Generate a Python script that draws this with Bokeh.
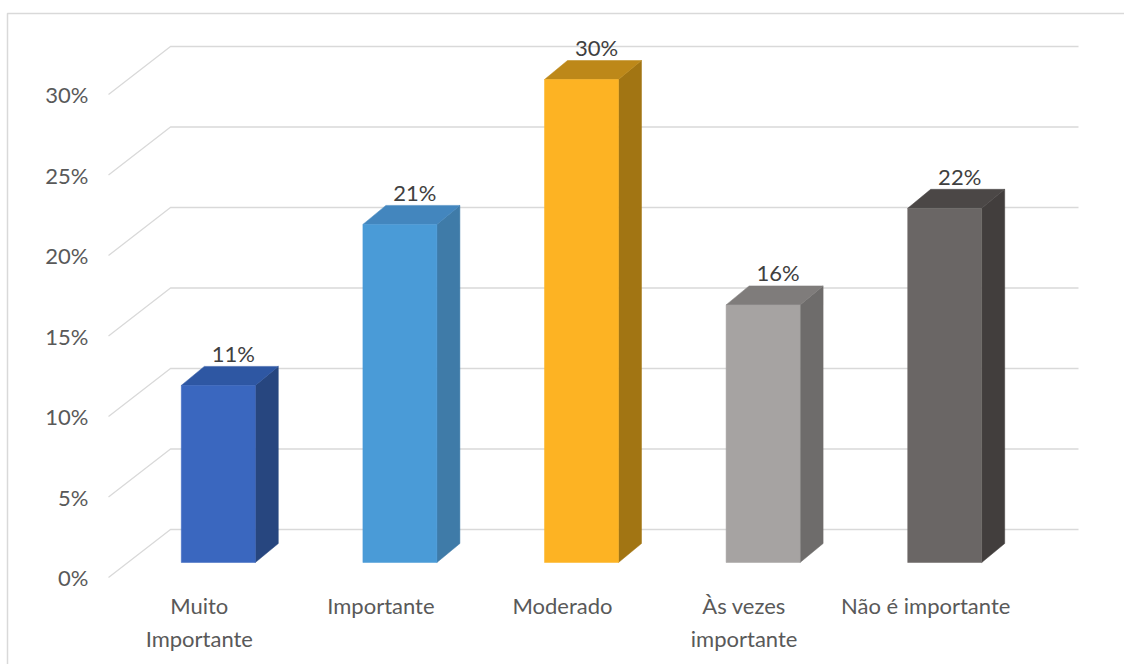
from bokeh.plotting import figure
from bokeh.models import Range1d
from bokeh.embed import file_html
from bokeh.resources import INLINE
from bokeh.core.properties import value

# ---- data ----
categories = ["Muito\nImportante", "Importante", "Moderado", "Às vezes\nimportante", "Não é importante"]
shares = [11, 21, 30, 16, 22]
tick_values = [0, 5, 10, 15, 20, 25, 30]
tick_labels = ["0%", "5%", "10%", "15%", "20%", "25%", "30%"]

front_colors = ["#3A67BF", "#4A9BD7", "#FDB323", "#A6A3A2", "#6A6665"]
side_colors = ["#27467F", "#3F7BA8", "#A27513", "#6E6C6B", "#423E3D"]
top_colors = ["#2E57A3", "#4386BE", "#BD8819", "#7F7C7B", "#4B4746"]

# ---- oblique projection geometry (pixels) ----
W, H = 1124, 664
PX_PER_CAT = 181.6      # width of one category slot on the front plane
PX_PER_PCT = 16.1       # height of one percentage point
FRONT_LEFT = 108        # screen x where the floor's front edge starts
FRONT_ZERO = 577        # screen y of 0% on the front plane
WALL_DX, WALL_DY = 62, 48      # front plane -> back wall
BAR_DX, BAR_DY = 19, 15        # front plane -> bar front face
DEPTH_DX, DEPTH_DY = 23, 19    # bar thickness
BAR_W = 74
FONT = "Lato"
FONT_SIZE = "22px"
TEXT_COLOR = "#595959"
GRID_COLOR = "#D9D9D9"


def ux(px):
    return px / PX_PER_CAT


def uy(px):
    return px / PX_PER_PCT


def sx(px):
    return -0.5 + (px - FRONT_LEFT) / PX_PER_CAT


def sy(py):
    return (FRONT_ZERO - py) / PX_PER_PCT


p = figure(width=W, height=H,
           x_range=Range1d(sx(0), sx(W)), y_range=Range1d(sy(H), sy(0)),
           min_border=0, toolbar_location=None, output_backend="svg",
           x_axis_type=None, y_axis_type=None,
           outline_line_color=None, background_fill_color="white",
           border_fill_color="white")
p.grid.visible = False

n = len(categories)
x_first, x_last = -0.5, n - 0.5

# chart-area border (top and left edges)
p.line(x=[sx(7), sx(7), sx(W + 5)], y=[sy(H + 5), sy(13), sy(13)],
       line_color=GRID_COLOR, line_width=1.5)

# floor/wall gridlines: diagonal on the side wall, then across the back wall
xs, ys = [], []
for v in tick_values:
    xs.append([x_first, x_first + ux(WALL_DX), x_last + ux(WALL_DX)])
    ys.append([v, v + uy(WALL_DY), v + uy(WALL_DY)])
p.multi_line(xs=xs, ys=ys, line_color=GRID_COLOR, line_width=1.3)

# bars as prisms: front face, right side, top
lefts, rights, bottoms, tops = [], [], [], []
side_xs, side_ys, top_xs, top_ys = [], [], [], []
for i, v in enumerate(shares):
    l = i - ux(BAR_W) / 2 + ux(BAR_DX)
    r = i + ux(BAR_W) / 2 + ux(BAR_DX)
    b = uy(BAR_DY)
    t = v + uy(BAR_DY)
    ddx, ddy = ux(DEPTH_DX), uy(DEPTH_DY)
    lefts.append(l); rights.append(r); bottoms.append(b); tops.append(t)
    side_xs.append([r, r + ddx, r + ddx, r])
    side_ys.append([b, b + ddy, t + ddy, t])
    top_xs.append([l, l + ddx, r + ddx, r])
    top_ys.append([t, t + ddy, t + ddy, t])

p.patches(xs=side_xs, ys=side_ys, fill_color=side_colors, line_color=side_colors, line_width=0.5)
p.patches(xs=top_xs, ys=top_ys, fill_color=top_colors, line_color=top_colors, line_width=0.5)
p.quad(left=lefts, right=rights, bottom=bottoms, top=tops,
       fill_color=front_colors, line_color=front_colors, line_width=0.5)

# value labels above each bar
p.text(x=[i + ux(34) for i in range(n)], y=[v + uy(47) for v in shares],
       text=[f"{v}%" for v in shares], text_align="center", text_baseline="middle",
       text_font=value(FONT), text_font_size=FONT_SIZE, text_color="#404040")

# y tick labels on the front plane
p.text(x=[x_first - ux(20)] * len(tick_values), y=tick_values, text=tick_labels,
       text_align="right", text_baseline="middle",
       text_font=value(FONT), text_font_size=FONT_SIZE, text_color=TEXT_COLOR)

# category labels under the floor
p.text(x=list(range(n)), y=[sy(591)] * n, text=categories,
       text_align="center", text_baseline="top", text_line_height=1.25,
       text_font=value(FONT), text_font_size=FONT_SIZE, text_color=TEXT_COLOR)

open("out.html", "w").write(file_html(p, INLINE))
